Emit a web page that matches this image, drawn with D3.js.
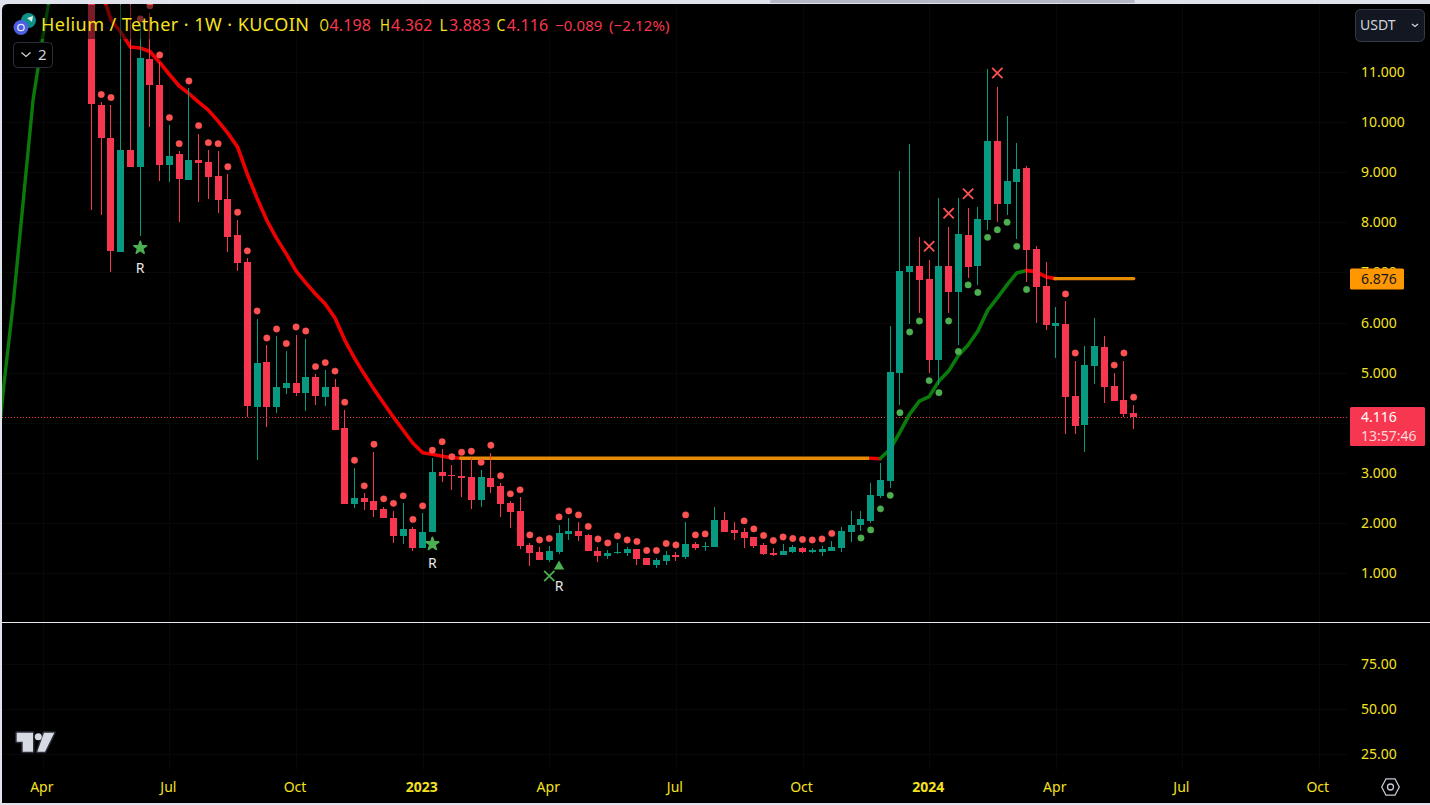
<!DOCTYPE html>
<html>
<head>
<meta charset="utf-8">
<script src="https://cdn.jsdelivr.net/npm/d3@7"></script>
<style>
html,body{margin:0;padding:0;background:#e0e3eb;overflow:hidden}
svg{display:block;font-family:"Noto Sans",sans-serif}
</style>
</head>
<body>
<svg id="c" width="1430" height="805"></svg>
<script>
// ---------- DATA (prices in USDT, one entry per weekly candle) ----------
const weekStart = "2022-05-09";
const opens = [13.4,10.34,9.68,7.41,9.44,9.11,11.26,10.75,9.15,9.36,8.85,9.24,9.20,8.92,8.46,7.75,7.21,4.31,5.21,4.31,4.69,4.79,4.59,4.91,4.51,4.71,3.89,2.38,2.50,2.44,2.28,2.10,1.74,1.88,1.50,1.82,3.01,2.95,2.93,2.91,2.46,2.89,2.73,2.40,2.24,1.56,1.42,1.26,1.42,1.78,1.84,1.76,1.44,1.34,1.40,1.40,1.48,1.30,1.16,1.24,1.36,1.32,1.58,1.52,1.52,2.06,1.86,1.82,1.72,1.56,1.40,1.36,1.42,1.50,1.42,1.42,1.44,1.50,1.82,1.96,2.04,2.53,2.83,4.99,7.01,7.13,6.87,5.25,7.13,6.61,7.74,7.13,8.04,9.62,8.36,8.80,9.08,7.47,6.73,5.93,5.97,4.53,3.95,5.13,5.51,4.73,4.45,4.198];
const highs = [14,10.40,10.34,14,14,11.94,12.18,11.20,9.94,9.42,10.68,9.77,9.44,9.42,8.96,8.04,7.29,6.07,5.55,5.73,5.43,5.75,5.67,4.97,5.05,4.87,4.25,3.09,2.59,3.41,2.32,2.24,2.40,1.92,2.20,3.29,3.47,3.15,3.25,3.29,3.05,3.39,2.79,2.44,2.51,1.60,1.52,1.54,1.96,2.10,2.02,1.78,1.52,1.46,1.60,1.52,1.48,1.30,1.30,1.44,1.42,2.02,1.62,1.62,2.32,2.22,2.02,1.90,1.72,1.60,1.50,1.58,1.56,1.52,1.50,1.54,1.64,1.92,2.24,2.24,2.79,3.19,5.93,9.02,9.56,7.70,7.25,8.48,7.90,8.48,8.28,8.30,11.06,10.70,10.12,9.58,9.12,7.53,7.21,6.31,6.43,5.23,5.53,6.09,5.73,4.99,5.23,4.362];
const lows = [8.24,8.14,7.00,7.41,9.11,7.73,9.91,8.82,8.81,8.01,8.85,8.41,8.46,8.19,7.41,7.03,4.11,3.25,3.92,4.20,4.57,4.53,4.23,4.35,4.33,3.85,2.38,2.30,2.26,2.12,2.10,1.60,1.58,1.44,1.50,1.82,2.81,2.65,2.51,2.28,2.32,2.59,2.12,1.90,1.48,1.14,1.26,1.22,1.38,1.66,1.64,1.44,1.22,1.28,1.38,1.34,1.16,1.16,1.10,1.16,1.24,1.28,1.46,1.44,1.52,1.82,1.66,1.50,1.50,1.36,1.34,1.36,1.40,1.40,1.40,1.34,1.44,1.42,1.62,1.84,2.00,2.50,2.69,4.35,5.97,6.19,4.99,4.75,6.19,5.55,6.89,6.75,7.84,8.00,8.14,7.66,6.81,5.99,5.85,5.29,3.77,3.77,3.41,4.77,4.39,4.43,4.11,3.883];
const closes = [10.37,9.69,7.43,9.44,9.11,11.28,10.74,9.15,9.32,8.86,9.24,9.19,8.90,8.44,7.70,7.19,4.33,5.19,4.31,4.71,4.79,4.59,4.91,4.53,4.71,3.85,2.38,2.50,2.42,2.26,2.10,1.74,1.88,1.50,1.82,3.01,2.93,2.93,2.89,2.46,2.91,2.71,2.38,2.22,1.54,1.40,1.26,1.44,1.80,1.84,1.74,1.44,1.34,1.40,1.42,1.48,1.28,1.16,1.26,1.36,1.32,1.58,1.50,1.54,2.06,1.82,1.80,1.70,1.54,1.38,1.36,1.44,1.52,1.42,1.46,1.48,1.52,1.84,1.96,2.08,2.55,2.85,5.01,7.03,7.13,6.85,5.25,7.13,6.61,7.76,7.11,8.06,9.62,8.36,8.82,9.06,7.45,6.71,5.95,5.99,4.51,3.93,5.15,5.53,4.71,4.43,4.17,4.116];
const redDots = [null,10.55,10.49,null,null,12.06,12.32,11.34,10.09,9.57,10.82,9.93,9.59,9.57,9.11,8.20,7.43,6.23,5.69,5.87,5.58,5.91,5.83,5.12,5.20,5.03,4.41,3.25,2.74,3.57,2.48,2.39,2.54,2.07,2.34,3.45,3.62,3.32,3.41,3.43,3.21,3.55,2.94,2.58,2.66,1.76,1.66,1.69,2.12,2.24,2.16,1.93,1.68,1.60,1.74,1.66,1.63,1.45,1.45,1.59,1.56,2.16,1.76,1.78,null,null,null,2.04,1.88,1.75,1.65,1.72,1.69,1.67,1.66,1.68,1.79,null,null,null,null,null,null,null,null,null,null,null,null,null,null,null,null,null,null,null,null,null,null,null,6.57,5.39,null,null,null,5.15,5.39,4.51];
const greenDots = [null,null,null,null,null,null,null,null,null,null,null,null,null,null,null,null,null,null,null,null,null,null,null,null,null,null,null,null,null,null,null,null,null,null,null,null,null,null,null,null,null,null,null,null,null,null,null,null,null,null,null,null,null,null,null,null,null,null,null,null,null,null,null,null,null,null,null,null,null,null,null,null,null,null,null,null,null,null,null,1.70,1.86,2.28,2.55,4.20,5.81,6.03,4.84,4.60,6.03,5.42,6.75,6.60,7.70,7.85,8.00,7.52,6.66,null,null,null,null,null,null,null,null,null,null,null];

// trend line, split by colour: first candle index of each run, then its values
const greenLeadStart = -10;
const greenLead = [2.75,4.75,6.45,8.44,10.44,11.70,12.83];
const redRunStart = 1;
const redRun = [12.63,12.04,11.80,11.50,11.48,11.41,11.19,10.95,10.72,10.57,10.40,10.24,10.02,9.78,9.50,8.96,8.48,8.04,7.68,7.37,7.03,6.79,6.57,6.37,6.09,5.65,5.29,4.97,4.67,4.39,4.11,3.85,3.59,3.40,3.37,3.33,3.30,3.29];
const redHookStart = 80;
const redHook = [3.29,3.28];
const greenRunStart = 81;
const greenRun = [3.29,3.47,3.81,4.17,4.43,4.52,4.83,5.03,5.34,5.55,5.83,6.24,6.49,6.75,6.99,7.04];
const redTailStart = 96;
const redTail = [7.04,7.01,6.91,6.876];
const levelStarts = [37.9,98.9];
const levelEnds = [79.8,107];
const levelValues = [3.29,6.876];

// signal markers
const starIdx = [5,35];
const starPrice = [7.49,1.58];
const triangleIdx = [48];
const trianglePrice = [1.13];
const greenCrossIdx = [47];
const greenCrossPrice = [0.94];
const redCrossIdx = [86,88,90,93];
const redCrossPrice = [7.52,8.18,8.57,10.98];
const rIdx = [5,35,48];
const rPrice = [7.09,1.20,0.74];

// axes
const priceTicks = [1,2,3,5,6,7,8,9,10,11];
const paneTicks = [25,50,75];
const timeTickDates = ["2022-04-04","2022-07-04","2022-10-03","2023-01-02","2023-04-03","2023-07-03","2023-10-02","2024-01-01","2024-04-01","2024-07-01","2024-10-07"];
const timeTickLabels = ["Apr","Jul","Oct","2023","Apr","Jul","Oct","2024","Apr","Jul","Oct"];
const boldLabels = ["2023","2024"];

// header text
const title = "Helium / Tether · 1W · KUCOIN";
const ohlcLetters = ["O","H","L","C"];
const ohlcValues = ["4.198","4.362","3.883","4.116"];
const changeText = "−0.089";
const changePct = "(−2.12%)";
const lastPrice = 4.116;
const countdown = "13:57:46";
const levelPrice = 6.876;

// ---------- STYLE ----------
const RED="#f7374f", GREEN="#089981", YEL="#f5e220", DOT_R="#ff5252", DOT_G="#4caf50";

// ---------- SCALES ----------
const svg = d3.select("#c");
const W=1430,H=805;
const x = d3.scaleLinear().domain([0,107]).range([91.5,1133.7]);
const y = d3.scaleLinear().domain([1,11]).range([573,72]);
const yPane = d3.scaleLinear().domain([0,100]).range([798.7,618.7]);
const parse = d3.utcParse("%Y-%m-%d");
const weekIdx = s => (parse(s)-parse(weekStart))/(7*864e5);

// ---------- FRAME ----------
svg.append("rect").attr("width",W).attr("height",H).attr("fill","#e0e3eb");
svg.append("rect").attr("x",770).attr("y",0).attr("width",365).attr("height",3).attr("rx",1.5).attr("fill","#b4b7c4");
svg.append("path").attr("fill","#000")
  .attr("d","M2,10 Q2,4 8,4 L1430,4 L1430,803 L2,803 Z");

const defs = svg.append("defs");
defs.append("clipPath").attr("id","main").append("rect").attr("x",2).attr("y",4).attr("width",1346).attr("height",618);

// grid
const grid = svg.append("g").attr("stroke","#080808").attr("stroke-width",1).attr("shape-rendering","crispEdges");
timeTickDates.forEach(d=>{const X=Math.round(x(weekIdx(d)))+.5;
  grid.append("line").attr("x1",X).attr("x2",X).attr("y1",4).attr("y2",770);});
[...priceTicks,4].forEach(t=>{const Y=Math.round(y(t))+.5;
  grid.append("line").attr("x1",2).attr("x2",1348).attr("y1",Y).attr("y2",Y);});
paneTicks.forEach(t=>{const Y=Math.round(yPane(t))+.5;
  grid.append("line").attr("x1",2).attr("x2",1348).attr("y1",Y).attr("y2",Y);});

const g = svg.append("g").attr("clip-path","url(#main)");

// last price dotted line
g.append("line").attr("x1",2).attr("x2",1350).attr("y1",Math.round(y(lastPrice))+.5).attr("y2",Math.round(y(lastPrice))+.5)
  .attr("stroke",RED).attr("stroke-width",1).attr("stroke-dasharray","1 2").attr("shape-rendering","crispEdges");

// trend lines
const lineGen = start => d3.line().x((d,i)=>x(start+i)).y(d=>y(d)).curve(d3.curveLinear);
const trend = (start,vals,col,w)=>g.append("path").attr("d",lineGen(start)(vals)).attr("fill","none")
  .attr("stroke",col).attr("stroke-width",w).attr("stroke-linejoin","round").attr("stroke-linecap","round");
const level = k => g.append("line").attr("x1",x(levelStarts[k])).attr("x2",x(levelEnds[k])).attr("y1",y(levelValues[k])).attr("y2",y(levelValues[k]))
   .attr("stroke","#e68a00").attr("stroke-width",3.4).attr("stroke-linecap","round");
trend(greenLeadStart,greenLead,"#0a7a0a",3.4);
trend(redRunStart,redRun,"#ee0000",3.6);
level(0);
trend(redHookStart,redHook,"#ee0000",3.6);
trend(greenRunStart,greenRun,"#0a7a0a",3.6);
trend(redTailStart,redTail,"#ee0000",3.6);
level(1);

// candles
const idx = d3.range(opens.length);
const col = i => closes[i]>=opens[i] ? GREEN : RED;
const crisp = i => Math.round(x(i)-.5);
g.append("g").selectAll("rect").data(idx).join("rect")
  .attr("x",i=>crisp(i)).attr("width",1)
  .attr("y",i=>y(highs[i])).attr("height",i=>Math.max(0,y(lows[i])-y(highs[i])))
  .attr("fill",col).attr("shape-rendering","crispEdges");
g.append("g").selectAll("rect").data(idx).join("rect")
  .attr("x",i=>crisp(i)-3).attr("width",7)
  .attr("y",i=>Math.round(y(Math.max(opens[i],closes[i]))))
  .attr("height",i=>Math.max(1,Math.round(Math.abs(y(opens[i])-y(closes[i])))))
  .attr("fill",col).attr("shape-rendering","crispEdges");

// dots
const dots = (arr,fill)=>g.append("g").selectAll("circle").data(idx.filter(i=>arr[i]!=null)).join("circle")
  .attr("cx",i=>x(i)).attr("cy",i=>y(arr[i])).attr("r",3.2).attr("fill",fill)
  .attr("stroke",fill).attr("stroke-opacity",0.45).attr("stroke-width",1);
dots(redDots,DOT_R);
dots(greenDots,DOT_G);

// markers
const sym = (type,size)=>d3.symbol().type(type).size(size)();
starIdx.forEach((s,k)=>g.append("path").attr("d",sym(d3.symbolStar,48))
  .attr("transform",`translate(${x(s)},${y(starPrice[k])})`).attr("fill",DOT_G).attr("stroke",DOT_G).attr("stroke-width",1.8).attr("stroke-linejoin","round"));
triangleIdx.forEach((s,k)=>g.append("path").attr("d",sym(d3.symbolTriangle,48))
  .attr("transform",`translate(${x(s)},${y(trianglePrice[k])})`).attr("fill",DOT_G));
const cross = (i,p,c)=>g.append("path").attr("d",sym(d3.symbolTimes,70))
  .attr("transform",`translate(${x(i)},${y(p)})`).attr("fill","none").attr("stroke",c).attr("stroke-width",1.8);
greenCrossIdx.forEach((s,k)=>cross(s,greenCrossPrice[k],DOT_G));
redCrossIdx.forEach((s,k)=>cross(s,redCrossPrice[k],DOT_R));
rIdx.forEach((s,k)=>g.append("text").attr("x",x(s)).attr("y",y(rPrice[k])).attr("dy","0.36em")
  .attr("text-anchor","middle").attr("fill","#e8e8e8").attr("font-size",14).text("R"));

// legend veil + legend
svg.append("rect").attr("x",10).attr("y",5).attr("width",664).attr("height",34).attr("fill","rgba(0,0,0,0.5)");
const ic = svg.append("g");
ic.append("circle").attr("cx",28.5).attr("cy",20.5).attr("r",7.5).attr("fill","#0e8f87");
ic.append("path").attr("d","M27,18 L33,16 L32,22 Z").attr("fill","#d8efe9");
ic.append("circle").attr("cx",21).attr("cy",27.5).attr("r",7.5).attr("fill","#4c5fe0");
ic.append("circle").attr("cx",21).attr("cy",27.5).attr("r",3.2).attr("fill","none").attr("stroke","#e6e9ff").attr("stroke-width",1.3);

const tl = svg.append("g").attr("font-size",18).attr("letter-spacing",0.45);
tl.append("text").attr("x",41).attr("y",31).attr("fill",YEL).text(title);
const hdrLX=[319.5,380,439.5,496.5], hdrVX=[329.5,391,449,506.7], hdrLW=[9.5,10,8,9];
const hd = svg.append("g").attr("font-size",16).attr("letter-spacing",0.15);
ohlcLetters.forEach((l,k)=>{
  hd.append("text").attr("x",hdrLX[k]).attr("y",30.5).attr("fill",YEL)
    .attr("textLength",hdrLW[k]).attr("lengthAdjust","spacingAndGlyphs").text(l);
  hd.append("text").attr("x",hdrVX[k]).attr("y",30.5).attr("fill",RED).text(ohlcValues[k]);
});
const hc = svg.append("g").attr("font-size",15).attr("letter-spacing",0.1);
hc.append("text").attr("x",555).attr("y",30.5).attr("fill",RED).text(changeText);
hc.append("text").attr("x",609).attr("y",30.5).attr("fill",RED).text(changePct);

// indicator collapse pill
svg.append("rect").attr("x",13.5).attr("y",42.5).attr("width",39).attr("height",25).attr("rx",4).attr("fill","#000").attr("stroke","#2a2e39");
svg.append("path").attr("d","M21.5,52.5 L26,56.5 L30.5,52.5").attr("fill","none").attr("stroke","#d1d4dc").attr("stroke-width",1.3);
svg.append("text").attr("x",38).attr("y",60).attr("fill","#d1d4dc").attr("font-size",15).text("2");

// pane separator
svg.append("line").attr("x1",2).attr("x2",1430).attr("y1",622.5).attr("y2",622.5).attr("stroke","#e8e8f0").attr("stroke-width",1);

// price axis
const ya = svg.append("g").attr("font-size",14).attr("fill",YEL);
ya.selectAll("text").data(priceTicks).join("text").attr("x",1361).attr("y",d=>y(d)).attr("dy","0.36em")
  .text(d=>d3.format(".3f")(d));
const yb = svg.append("g").attr("font-size",14).attr("fill",YEL);
yb.selectAll("text").data(paneTicks).join("text").attr("x",1361).attr("y",d=>yPane(d)).attr("dy","0.36em")
  .text(d=>d3.format(".2f")(d));

// time axis
const xa = svg.append("g").attr("font-size",14).attr("fill",YEL).attr("text-anchor","middle");
xa.selectAll("text").data(timeTickDates).join("text")
  .attr("x",d=>x(weekIdx(d))-1).attr("y",787).attr("dy","0.36em")
  .attr("font-weight",(d,i)=>boldLabels.includes(timeTickLabels[i])?700:400)
  .text((d,i)=>timeTickLabels[i]);

// price tags
svg.append("rect").attr("x",1350).attr("y",y(levelPrice)-10).attr("width",54).attr("height",21).attr("rx",1.5).attr("fill","#ff9800");
svg.append("text").attr("x",1361).attr("y",y(levelPrice)).attr("dy","0.37em").attr("font-size",14).attr("fill","#131722").text(d3.format(".3f")(levelPrice));
svg.append("rect").attr("x",1350).attr("y",y(lastPrice)-10).attr("width",75).attr("height",39).attr("rx",1.5).attr("fill",RED);
svg.append("text").attr("x",1361).attr("y",y(lastPrice)).attr("dy","0.37em").attr("font-size",14).attr("fill","#fff").text(d3.format(".3f")(lastPrice));
svg.append("text").attr("x",1361).attr("y",y(lastPrice)+18.5).attr("dy","0.37em").attr("font-size",14).attr("fill","#ffd6da").text(countdown);

// currency button
svg.append("rect").attr("x",1355.5).attr("y",9.5).attr("width",69).attr("height",32).attr("rx",5).attr("fill","#131722").attr("stroke","#363a45");
svg.append("text").attr("x",1360).attr("y",30).attr("font-size",14).attr("fill","#d1d4dc").text("USDT");
svg.append("path").attr("d","M1412,24 L1415,26.5 L1418,24").attr("fill","none").attr("stroke","#d1d4dc").attr("stroke-width",1.3);

// logo
const lg = svg.append("g").attr("transform","translate(15,731)");
const logoT="M1.7,1.7 H18 V20.7 H7.7 V10.7 H1.7 Z", logoS="M29,1.7 H39.3 L30,20.7 H22.3 Z";
lg.append("path").attr("fill","#2a2e39").attr("stroke","#2a2e39").attr("stroke-width",3).attr("stroke-linejoin","round").attr("d",logoT+" "+logoS);
lg.append("path").attr("fill","#d8dae3").attr("d",logoT+" "+logoS);
lg.append("circle").attr("cx",23.3).attr("cy",5.7).attr("r",3.5).attr("fill","#d8dae3");

// settings icon
svg.append("path").attr("d","M1381.7,787 L1386,778.8 H1395 L1399.3,787 L1395,795.2 H1386 Z").attr("fill","none").attr("stroke","#c8cad6").attr("stroke-width",1.3);
svg.append("circle").attr("cx",1390.5).attr("cy",787).attr("r",3).attr("fill","none").attr("stroke","#c8cad6").attr("stroke-width",1.3);
</script>
</body>
</html>
